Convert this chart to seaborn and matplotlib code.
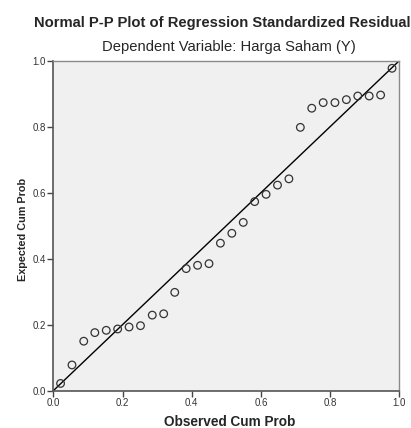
import seaborn as sns
import matplotlib.pyplot as plt
import pandas as pd

observed = [0.021, 0.054, 0.088, 0.120, 0.153, 0.186, 0.219, 0.252, 0.286, 0.319,
            0.351, 0.384, 0.417, 0.450, 0.483, 0.516, 0.549, 0.582, 0.615, 0.648,
            0.681, 0.714, 0.747, 0.780, 0.814, 0.847, 0.880, 0.913, 0.946, 0.979]
expected = [0.022, 0.078, 0.150, 0.176, 0.183, 0.187, 0.193, 0.197, 0.229, 0.233,
            0.298, 0.370, 0.380, 0.385, 0.447, 0.477, 0.510, 0.573, 0.595, 0.623,
            0.642, 0.798, 0.856, 0.873, 0.873, 0.882, 0.893, 0.893, 0.896, 0.977]
ref_line = [0.0, 1.0]
ticks = [0.0, 0.2, 0.4, 0.6, 0.8, 1.0]

df = pd.DataFrame({"obs": observed, "exp": expected})
line_df = pd.DataFrame({"x": ref_line, "y": ref_line})

sns.set_style("white")
plt.rcParams['font.family'] = ['Liberation Sans', 'DejaVu Sans']

fig = plt.figure(figsize=(4.11, 4.28), dpi=100)
ax = fig.add_axes([53.3 / 411, (428 - 390.7) / 428, 346 / 411, 330 / 428])
ax.set_facecolor("#f0f0f0")

sns.lineplot(data=line_df, x="x", y="y", color="black", linewidth=1.0, ax=ax)
sns.scatterplot(data=df, x="obs", y="exp", marker="o", s=30, facecolor="none",
                edgecolor="#333333", linewidth=0.9, ax=ax, zorder=3)

ax.set_xlim(0, 1)
ax.set_ylim(0, 1)
ax.set_xticks(ticks)
ax.set_yticks(ticks)
ax.set_xticklabels([f"{t:.1f}" for t in ticks])
ax.set_yticklabels([f"{t:.1f}" for t in ticks])
ax.tick_params(axis="both", direction="out", length=4, width=1, color="#444444",
               labelsize=7, labelcolor="#333333", pad=1.5, left=True, bottom=True)

for side in ["left", "bottom"]:
    ax.spines[side].set_color("#555555")
    ax.spines[side].set_linewidth(1.2)
for side in ["top", "right"]:
    ax.spines[side].set_color("#8a8a8a")
    ax.spines[side].set_linewidth(1.0)

ax.set_xlabel("Observed Cum Prob", fontsize=9.8, fontweight="bold")
ax.xaxis.set_label_coords(0.51, -(415.5 - 390.7) / 330)
ax.set_ylabel("Expected Cum Prob", fontsize=7.8, fontweight="bold")
ax.yaxis.set_label_coords((27.5 - 53.3) / 346, 0.49)

fig.text(0.54, 1 - 23 / 428, "Normal P-P Plot of Regression Standardized Residual",
         ha="center", va="center", fontsize=10.6, fontweight="bold")
fig.text(0.556, 1 - 47.5 / 428, "Dependent Variable: Harga Saham (Y)",
         ha="center", va="center", fontsize=10.6)

plt.savefig("out.png", dpi=100)
